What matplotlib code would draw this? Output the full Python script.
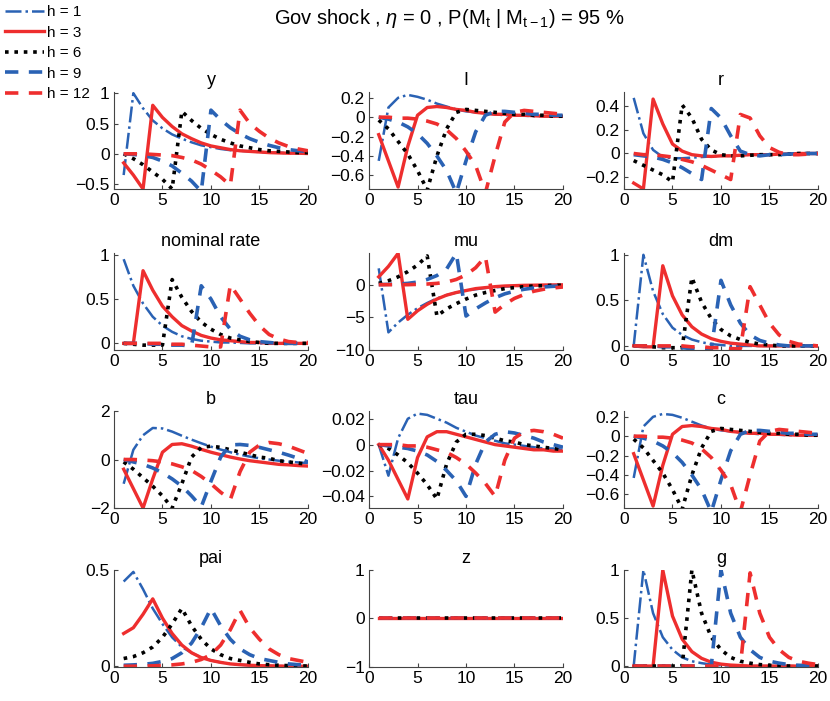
import numpy as np
import matplotlib
matplotlib.use('Agg')
import matplotlib.pyplot as plt

plt.rcParams['font.family'] = ['Liberation Sans', 'DejaVu Sans']
plt.rcParams['mathtext.fontset'] = 'custom'
plt.rcParams['mathtext.rm'] = 'Liberation Sans'
plt.rcParams['mathtext.it'] = 'Liberation Sans:italic'
plt.rcParams['xtick.direction'] = 'in'
plt.rcParams['ytick.direction'] = 'in'

t = np.arange(1, 21)
horizons = [1, 3, 6, 9, 12]

# impulse responses, one row per horizon h = 1, 3, 6, 9, 12
y_resp = [
    [-0.35, 1.0, 0.75, 0.55, 0.42, 0.32, 0.25, 0.19, 0.14, 0.11, 0.08, 0.06, 0.05, 0.04, 0.03, 0.02, 0.02, 0.01, 0.01, 0.01],
    [-0.15, -0.35, -0.58, 0.8, 0.6, 0.45, 0.33, 0.25, 0.18, 0.13, 0.1, 0.07, 0.05, 0.04, 0.03, 0.02, 0.015, 0.01, 0.01, 0.005],
    [0.0, -0.08, -0.18, -0.3, -0.42, -0.58, 0.7, 0.55, 0.42, 0.32, 0.24, 0.18, 0.13, 0.1, 0.07, 0.05, 0.04, 0.03, 0.02, 0.02],
    [0.0, -0.01, -0.03, -0.06, -0.12, -0.2, -0.32, -0.45, -0.62, 0.72, 0.56, 0.43, 0.33, 0.25, 0.19, 0.14, 0.1, 0.07, 0.05, 0.04],
    [0.0, 0.0, 0.0, -0.01, -0.02, -0.03, -0.06, -0.1, -0.17, -0.27, -0.38, -0.52, 0.72, 0.5, 0.37, 0.26, 0.18, 0.12, 0.08, 0.05],
]
I_resp = [
    [-0.45, 0.1, 0.2, 0.23, 0.21, 0.18, 0.14, 0.11, 0.08, 0.06, 0.05, 0.04, 0.03, 0.02, 0.02, 0.015, 0.01, 0.01, 0.01, 0.005],
    [-0.18, -0.45, -0.72, -0.3, 0.02, 0.1, 0.11, 0.1, 0.08, 0.07, 0.05, 0.04, 0.03, 0.03, 0.02, 0.02, 0.015, 0.01, 0.01, 0.01],
    [-0.03, -0.12, -0.25, -0.38, -0.55, -0.75, -0.4, -0.12, 0.05, 0.08, 0.07, 0.06, 0.05, 0.04, 0.03, 0.03, 0.02, 0.02, 0.01, 0.01],
    [0.0, -0.02, -0.05, -0.1, -0.17, -0.27, -0.4, -0.55, -0.78, -0.45, -0.15, 0.02, 0.06, 0.06, 0.05, 0.04, 0.03, 0.03, 0.02, 0.02],
    [0.0, 0.0, -0.01, -0.01, -0.02, -0.04, -0.07, -0.13, -0.22, -0.35, -0.5, -0.78, -0.4, -0.05, 0.05, 0.07, 0.06, 0.05, 0.04, 0.03],
]
r_resp = [
    [0.47, 0.17, 0.03, -0.03, -0.04, -0.04, -0.035, -0.03, -0.025, -0.02, -0.02, -0.015, -0.01, -0.01, -0.01, -0.005, -0.005, 0.0, 0.0, 0.0],
    [-0.25, -0.3, 0.46, 0.25, 0.08, 0.02, -0.01, -0.02, -0.025, -0.02, -0.02, -0.015, -0.01, -0.01, -0.01, -0.005, -0.005, 0.0, 0.0, 0.0],
    [-0.06, -0.1, -0.14, -0.18, -0.24, 0.41, 0.3, 0.12, 0.03, -0.01, -0.02, -0.02, -0.015, -0.01, -0.01, -0.01, -0.005, 0.0, 0.0, 0.0],
    [-0.01, -0.02, -0.03, -0.05, -0.08, -0.12, -0.17, -0.22, 0.38, 0.3, 0.15, 0.02, -0.01, -0.02, -0.01, -0.01, -0.005, 0.0, 0.0, 0.0],
    [0.0, -0.01, -0.01, -0.02, -0.03, -0.05, -0.07, -0.1, -0.14, -0.18, -0.22, 0.33, 0.3, 0.15, 0.05, 0.01, -0.01, -0.01, -0.005, 0.0],
]
nom_resp = [
    [0.95, 0.65, 0.45, 0.3, 0.2, 0.13, 0.08, 0.05, 0.03, 0.02, 0.01, 0.01, 0.005, 0.0, 0.0, 0.0, 0.0, 0.0, 0.0, 0.0],
    [0.0, 0.0, 0.82, 0.6, 0.42, 0.3, 0.2, 0.14, 0.09, 0.06, 0.04, 0.03, 0.02, 0.01, 0.01, 0.0, 0.0, 0.0, 0.0, 0.0],
    [0.0, -0.01, -0.02, -0.02, -0.02, 0.72, 0.52, 0.36, 0.24, 0.16, 0.1, 0.06, 0.04, 0.02, 0.01, 0.0, 0.0, 0.0, 0.0, 0.0],
    [0.0, 0.0, 0.0, -0.01, -0.01, -0.02, -0.02, -0.03, 0.65, 0.5, 0.3, 0.16, 0.08, 0.04, 0.02, 0.01, 0.0, 0.0, 0.0, 0.0],
    [0.0, 0.0, 0.0, 0.0, 0.0, -0.01, -0.01, -0.02, -0.03, -0.04, -0.04, 0.66, 0.5, 0.34, 0.2, 0.1, 0.05, 0.02, 0.01, 0.01],
]
mu_resp = [
    [2.5, -7.3, -5.8, -4.6, -3.6, -2.8, -2.1, -1.6, -1.2, -0.9, -0.7, -0.5, -0.4, -0.3, -0.2, -0.15, -0.1, -0.08, -0.06, -0.05],
    [1.2, 2.8, 4.8, -5.3, -4.0, -3.0, -2.2, -1.6, -1.2, -0.9, -0.6, -0.45, -0.3, -0.2, -0.15, -0.1, -0.08, -0.05, -0.04, -0.03],
    [0.2, 0.6, 1.2, 2.0, 3.0, 4.4, -4.8, -3.7, -2.9, -2.2, -1.6, -1.2, -0.9, -0.6, -0.45, -0.3, -0.2, -0.15, -0.1, -0.08],
    [0.0, 0.05, 0.1, 0.2, 0.4, 0.8, 1.4, 2.4, 4.8, -4.8, -3.7, -2.8, -2.0, -1.4, -1.0, -0.7, -0.5, -0.35, -0.25, -0.2],
    [0.0, 0.0, 0.0, 0.0, 0.05, 0.1, 0.2, 0.4, 0.8, 1.5, 2.6, 4.3, -4.2, -3.0, -2.1, -1.5, -1.0, -0.7, -0.5, -0.35],
]
dm_resp = [
    [0.0, 1.0, 0.6, 0.35, 0.2, 0.12, 0.07, 0.04, 0.02, 0.01, 0.0, 0.0, 0.0, 0.0, 0.0, 0.0, 0.0, 0.0, 0.0, 0.0],
    [0.0, -0.01, -0.01, 0.88, 0.55, 0.34, 0.21, 0.13, 0.08, 0.05, 0.03, 0.02, 0.01, 0.0, 0.0, 0.0, 0.0, 0.0, 0.0, 0.0],
    [0.0, 0.0, -0.01, -0.02, -0.02, -0.02, 0.75, 0.48, 0.3, 0.18, 0.11, 0.07, 0.04, 0.02, 0.01, 0.0, 0.0, 0.0, 0.0, 0.0],
    [0.0, 0.0, 0.0, -0.01, -0.01, -0.02, -0.03, -0.03, -0.04, 0.72, 0.45, 0.25, 0.12, 0.06, 0.03, 0.01, 0.0, 0.0, 0.0, 0.0],
    [0.0, 0.0, 0.0, 0.0, 0.0, 0.0, -0.01, -0.01, -0.02, -0.02, -0.03, -0.03, 0.65, 0.45, 0.25, 0.12, 0.05, 0.02, 0.01, 0.0],
]
b_resp = [
    [-1.0, 0.4, 1.0, 1.3, 1.28, 1.15, 0.98, 0.82, 0.67, 0.53, 0.41, 0.3, 0.2, 0.12, 0.05, 0.0, -0.05, -0.09, -0.12, -0.15],
    [-0.4, -1.2, -2.0, -0.8, 0.3, 0.62, 0.65, 0.55, 0.42, 0.3, 0.2, 0.1, 0.02, -0.05, -0.1, -0.15, -0.2, -0.22, -0.25, -0.27],
    [-0.1, -0.4, -0.75, -1.1, -1.5, -2.0, -1.0, 0.1, 0.5, 0.55, 0.5, 0.4, 0.3, 0.2, 0.1, 0.05, -0.05, -0.1, -0.15, -0.2],
    [0.0, -0.1, -0.2, -0.35, -0.55, -0.8, -1.1, -1.5, -1.95, -0.9, 0.1, 0.6, 0.62, 0.58, 0.5, 0.4, 0.3, 0.18, 0.05, -0.1],
    [0.0, 0.0, -0.02, -0.05, -0.1, -0.18, -0.3, -0.45, -0.7, -1.0, -1.35, -1.65, -0.5, 0.3, 0.6, 0.7, 0.65, 0.55, 0.4, 0.25],
]
tau_resp = [
    [0.0, -0.024, 0.005, 0.02, 0.024, 0.023, 0.02, 0.017, 0.013, 0.01, 0.007, 0.005, 0.003, 0.001, 0.0, -0.001, -0.002, -0.003, -0.003, -0.004],
    [0.0, -0.012, -0.027, -0.042, -0.01, 0.006, 0.01, 0.01, 0.008, 0.006, 0.004, 0.002, 0.0, -0.001, -0.002, -0.003, -0.004, -0.004, -0.005, -0.005],
    [0.0, -0.003, -0.008, -0.014, -0.022, -0.031, -0.042, -0.015, 0.002, 0.008, 0.008, 0.007, 0.005, 0.003, 0.002, 0.0, -0.001, -0.002, -0.003, -0.004],
    [0.0, -0.001, -0.002, -0.003, -0.005, -0.008, -0.013, -0.02, -0.028, -0.04, -0.015, 0.002, 0.008, 0.01, 0.009, 0.007, 0.005, 0.002, 0.0, -0.002],
    [0.0, 0.0, 0.0, -0.001, -0.001, -0.002, -0.004, -0.006, -0.01, -0.015, -0.022, -0.03, -0.04, -0.012, 0.005, 0.01, 0.011, 0.01, 0.008, 0.005],
]
c_resp = [
    [-0.43, 0.1, 0.2, 0.23, 0.22, 0.19, 0.15, 0.11, 0.08, 0.06, 0.05, 0.04, 0.03, 0.02, 0.02, 0.015, 0.01, 0.01, 0.01, 0.005],
    [-0.18, -0.45, -0.72, -0.3, 0.02, 0.1, 0.11, 0.1, 0.08, 0.07, 0.05, 0.04, 0.03, 0.03, 0.02, 0.02, 0.015, 0.01, 0.01, 0.01],
    [-0.03, -0.12, -0.25, -0.38, -0.55, -0.75, -0.4, -0.12, 0.05, 0.08, 0.07, 0.06, 0.05, 0.04, 0.03, 0.03, 0.02, 0.02, 0.01, 0.01],
    [0.0, -0.02, -0.05, -0.1, -0.17, -0.27, -0.4, -0.55, -0.78, -0.45, -0.15, 0.02, 0.06, 0.06, 0.05, 0.04, 0.03, 0.03, 0.02, 0.02],
    [0.0, 0.0, -0.01, -0.01, -0.02, -0.04, -0.07, -0.13, -0.22, -0.35, -0.5, -0.78, -0.4, -0.05, 0.05, 0.07, 0.06, 0.05, 0.04, 0.03],
]
pai_resp = [
    [0.44, 0.49, 0.4, 0.3, 0.22, 0.15, 0.1, 0.07, 0.045, 0.03, 0.02, 0.012, 0.008, 0.005, 0.003, 0.002, 0.001, 0.0, 0.0, 0.0],
    [0.17, 0.2, 0.27, 0.35, 0.25, 0.17, 0.11, 0.07, 0.045, 0.03, 0.02, 0.012, 0.008, 0.005, 0.003, 0.002, 0.001, 0.0, 0.0, 0.0],
    [0.04, 0.05, 0.07, 0.1, 0.15, 0.22, 0.3, 0.21, 0.14, 0.09, 0.06, 0.04, 0.03, 0.02, 0.012, 0.008, 0.005, 0.003, 0.002, 0.001],
    [0.005, 0.007, 0.01, 0.015, 0.025, 0.04, 0.07, 0.12, 0.2, 0.3, 0.21, 0.14, 0.09, 0.06, 0.04, 0.03, 0.02, 0.012, 0.008, 0.005],
    [0.0, 0.0, 0.001, 0.002, 0.004, 0.007, 0.012, 0.02, 0.035, 0.06, 0.11, 0.19, 0.29, 0.2, 0.14, 0.09, 0.06, 0.04, 0.03, 0.02],
]
z_resp = [
    [0.0] * 20,
    [0.0] * 20,
    [0.0] * 20,
    [0.0] * 20,
    [0.0] * 20,
]
g_resp = [
    [0.0, 1.0, 0.55, 0.3, 0.17, 0.09, 0.05, 0.03, 0.015, 0.008, 0.005, 0.0, 0.0, 0.0, 0.0, 0.0, 0.0, 0.0, 0.0, 0.0],
    [0.0, 0.0, 0.0, 1.0, 0.52, 0.28, 0.15, 0.08, 0.04, 0.02, 0.01, 0.005, 0.0, 0.0, 0.0, 0.0, 0.0, 0.0, 0.0, 0.0],
    [0.0, 0.0, 0.0, 0.0, 0.0, 0.0, 1.0, 0.55, 0.3, 0.17, 0.09, 0.05, 0.03, 0.015, 0.008, 0.004, 0.0, 0.0, 0.0, 0.0],
    [0.0, 0.0, 0.0, 0.0, 0.0, 0.0, 0.0, 0.0, 0.0, 1.0, 0.55, 0.3, 0.17, 0.09, 0.05, 0.03, 0.015, 0.008, 0.004, 0.0],
    [0.0, 0.0, 0.0, 0.0, 0.0, 0.0, 0.0, 0.0, 0.0, 0.0, 0.0, 0.0, 0.97, 0.55, 0.3, 0.17, 0.09, 0.05, 0.03, 0.015],
]

panels = [
    ('y', y_resp, (-0.58, 1.02), [-0.5, 0, 0.5, 1]),
    ('I', I_resp, (-0.74, 0.26), [-0.6, -0.4, -0.2, 0, 0.2]),
    ('r', r_resp, (-0.3, 0.52), [-0.2, 0, 0.2, 0.4]),
    ('nominal rate', nom_resp, (-0.075, 1.02), [0, 0.5, 1]),
    ('mu', mu_resp, (-10, 4.85), [-10, -5, 0]),
    ('dm', dm_resp, (-0.045, 1.02), [0, 0.5, 1]),
    ('b', b_resp, (-2, 2), [-2, 0, 2]),
    ('tau', tau_resp, (-0.049, 0.026), [-0.04, -0.02, 0, 0.02]),
    ('c', c_resp, (-0.74, 0.26), [-0.6, -0.4, -0.2, 0, 0.2]),
    ('pai', pai_resp, (-0.004, 0.5), [0, 0.5]),
    ('z', z_resp, (-1, 1), [-1, 0, 1]),
    ('g', g_resp, (-0.01, 1.0), [0, 0.5, 1]),
]

blue = '#2a62b4'
red = '#ee2e2e'
styles = [
    dict(color=blue, lw=1.8, linestyle='-.'),
    dict(color=red, lw=2.4, linestyle='-'),
    dict(color='black', lw=2.6, linestyle=(0, (1, 1.6))),
    dict(color=blue, lw=2.6, linestyle=(0, (3.7, 2.9))),
    dict(color=red, lw=2.6, linestyle=(0, (3.7, 2.9))),
]

fig = plt.figure(figsize=(8.3, 7.01), dpi=100)

lefts = [0.1373, 0.4446, 0.7518]
bottoms = [0.7304, 0.5007, 0.2753, 0.0485]
w, h = 0.2337, 0.1384

lines = []
for k, (name, resp, ylim, yt) in enumerate(panels):
    ax = fig.add_axes([lefts[k % 3], bottoms[k // 3], w, h])
    for j in range(5):
        ln, = ax.plot(t, resp[j], **styles[j])
        if k == 0:
            lines.append(ln)
    ax.set_xlim(0, 20)
    ax.set_xticks([0, 5, 10, 15, 20])
    ax.set_ylim(*ylim)
    ax.set_yticks(yt)
    ax.set_yticklabels([('%g' % v).replace('-', '\u2212') for v in yt])
    ax.spines['top'].set_visible(False)
    ax.spines['right'].set_visible(False)
    ax.spines['left'].set_color('#444444')
    ax.spines['bottom'].set_color('#444444')
    ax.tick_params(labelsize=12.5, length=3, width=0.8, color='#444444', pad=3)
    ax.set_title(name, fontsize=13, pad=5)

fig.legend(lines, ['h = %d' % hh for hh in horizons], loc='upper left',
           bbox_to_anchor=(0.0, 1.0), frameon=False, fontsize=11,
           handlelength=2.5, handletextpad=0.2, labelspacing=0.42,
           borderaxespad=0.25, borderpad=0.1)

fig.text(0.541, 0.974, r'Gov shock , $\eta$ = 0 , P(M$_{\rm t}$ | M$_{\rm t-1}$) = 95 %',
         ha='center', va='center', fontsize=14.5)

fig.savefig('out.png', dpi=100)
